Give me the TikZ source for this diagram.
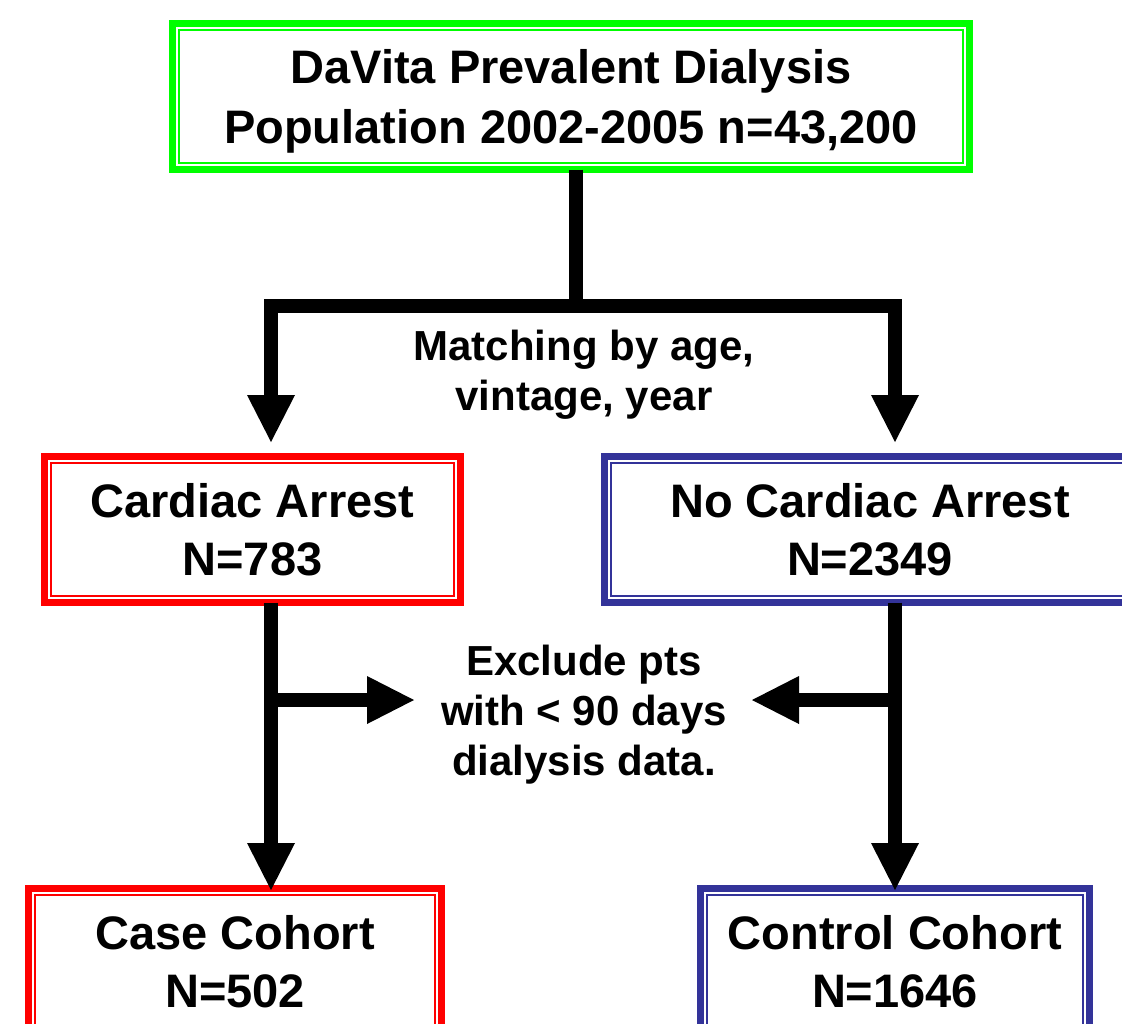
\documentclass[tikz,border=0pt]{standalone}
\usepackage{fontspec}
\setmainfont{Liberation Sans}
\usetikzlibrary{arrows.meta}
\definecolor{cgreen}{RGB}{0,255,0}
\definecolor{cred}{RGB}{255,0,0}
\definecolor{cblue}{RGB}{51,51,153}
\begin{document}
\begin{tikzpicture}[x=1pt,y=-1pt,
  boxst/.style={rectangle, line width=7pt, inner sep=0pt, outer sep=0pt, minimum height=146pt,
     align=center, font=\bfseries\fontsize{47}{58}\selectfont, fill=white},
  lbl/.style={align=center, inner sep=0pt, font=\bfseries\fontsize{42}{50}\selectfont},
  conn/.style={line width=14pt, line join=miter, line cap=butt, black},
  tip/.style={-{Triangle[length=47pt 0 0, width=48pt 0 0, line width=0pt 0 0]}}
]
\useasboundingbox (0,0) rectangle (1122,1023);
\fill[white] (0,0) rectangle (1122,1023);

% boxes
\node[boxst, draw=cgreen, minimum width=797pt, text depth=0pt,
      font=\bfseries\fontsize{47}{60}\selectfont] (pop) at (571,96.5)
  {DaVita Prevalent Dialysis\\Population 2002-2005 n=43,200};
\node[boxst, draw=cred, minimum width=416pt] (ca) at (252.5,529.5)
  {Cardiac Arrest\\N=783};
\node[boxst, draw=cblue, minimum width=531pt] (nca) at (870,529.5)
  {No Cardiac Arrest\\N=2349};
\node[boxst, draw=cred, minimum width=413pt] (case) at (235,961.5)
  {Case Cohort\\N=502};
\node[boxst, draw=cblue, minimum width=389pt] (ctrl) at (895,961.5)
  {Control Cohort\\N=1646};

% inner border lines
\foreach \n/\c in {pop/cgreen, ca/cred, nca/cblue, case/cred, ctrl/cblue}{
  \draw[\c, line width=2pt] ([xshift=6.5pt,yshift=-6.5pt]\n.north west) rectangle ([xshift=-6.5pt,yshift=6.5pt]\n.south east);
}

% labels
\node[lbl] (match) at (584,375) {Matching by age,\\vintage, year};
\node[lbl] (excl) at (584,715) {Exclude pts\\with < 90 days\\dialysis data.};

% connectors
\coordinate (j1) at (576,306);
\coordinate (jl) at (271,306);
\coordinate (jr) at (895,306);
\coordinate (tl) at (271,442);
\coordinate (tr) at (895,442);
\draw[conn] (pop.south -| j1) -- (j1);
\draw[conn, tip] (j1) -- (jl) -- (tl);
\draw[conn, tip] (j1) -- (jr) -- (tr);

\coordinate (bl) at (271,700);
\coordinate (br) at (895,700);
\coordinate (el) at (414,700);
\coordinate (er) at (752,700);
\draw[conn, tip] (ca.south -| bl) -- ([yshift=-1.5pt]case.north -| bl);
\draw[conn, tip] (nca.south -| br) -- ([yshift=-1.5pt]ctrl.north -| br);
\draw[conn, tip] (bl) -- (el);
\draw[conn, tip] (br) -- (er);
\end{tikzpicture}
\end{document}
